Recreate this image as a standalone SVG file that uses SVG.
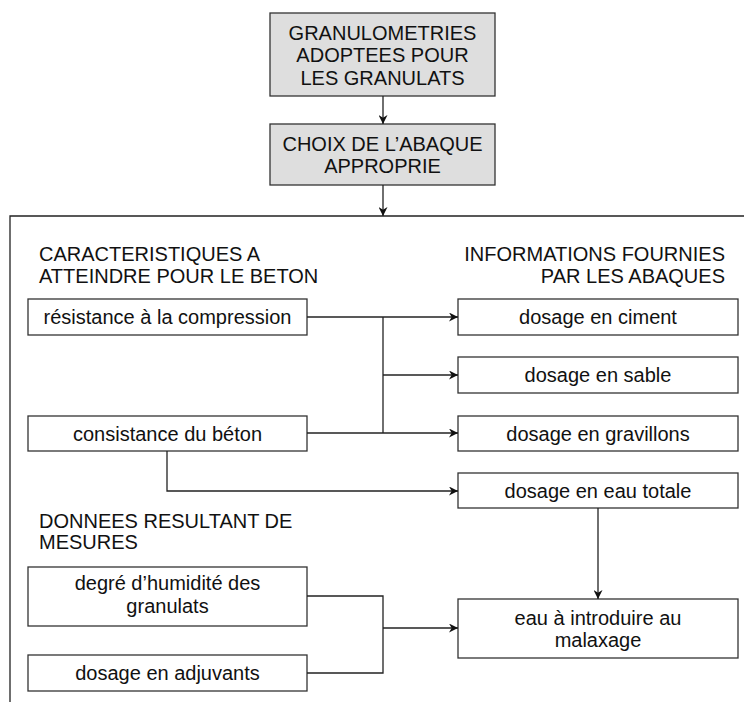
<svg xmlns="http://www.w3.org/2000/svg" width="744" height="702" viewBox="0 0 744 702">
<style>
.box{fill:#fff;stroke:#333;stroke-width:1.3}
.gbox{fill:#dedede;stroke:#333;stroke-width:1.3}
.t{font-family:"Liberation Sans",Arial,sans-serif;font-size:20px;fill:#111}
.c{text-anchor:middle}
.r{text-anchor:end}
.ln{fill:none;stroke:#222;stroke-width:1.3}
</style>
<defs>
<marker id="ah" viewBox="0 0 10 10" refX="10" refY="5" markerWidth="9" markerHeight="9" markerUnits="userSpaceOnUse" orient="auto">
<path d="M0,0 L10,5 L0,10 L3,5 Z" fill="#111"/>
</marker>
</defs>
<rect width="744" height="702" fill="#fff"/>
<g id="frame"><path class="ln" d="M10,702 V216 H744"/></g>
<g id="n1"><rect class="gbox" x="270" y="13" width="225" height="83"/>
<text class="t c" x="382.5" y="40">GRANULOMETRIES</text>
<text class="t c" x="382.5" y="62">ADOPTEES POUR</text>
<text class="t c" x="382.5" y="85">LES GRANULATS</text></g>
<g id="n2"><rect class="gbox" x="270" y="124" width="225" height="61"/>
<text class="t c" x="382.5" y="151">CHOIX DE L’ABAQUE</text>
<text class="t c" x="382.5" y="173">APPROPRIE</text></g>
<g id="h1"><text class="t" x="39" y="261">CARACTERISTIQUES A</text>
<text class="t" x="39" y="283">ATTEINDRE POUR LE BETON</text></g>
<g id="h2"><text class="t r" x="725" y="261">INFORMATIONS FOURNIES</text>
<text class="t r" x="725" y="283">PAR LES ABAQUES</text></g>
<g id="h3"><text class="t" x="39" y="528">DONNEES RESULTANT DE</text>
<text class="t" x="39" y="549">MESURES</text></g>
<g id="n3"><rect class="box" x="28" y="299" width="279" height="36"/>
<text class="t c" x="167.5" y="324">résistance à la compression</text></g>
<g id="n4"><rect class="box" x="28" y="416" width="279" height="35"/>
<text class="t c" x="167.5" y="441">consistance du béton</text></g>
<g id="n5"><rect class="box" x="458" y="299" width="280" height="36"/>
<text class="t c" x="598" y="324">dosage en ciment</text></g>
<g id="n6"><rect class="box" x="458" y="357" width="280" height="36"/>
<text class="t c" x="598" y="382">dosage en sable</text></g>
<g id="n7"><rect class="box" x="458" y="416" width="280" height="35"/>
<text class="t c" x="598" y="441">dosage en gravillons</text></g>
<g id="n8"><rect class="box" x="458" y="473" width="280" height="35"/>
<text class="t c" x="598" y="498">dosage en eau totale</text></g>
<g id="n9"><rect class="box" x="28" y="567" width="279" height="59"/>
<text class="t c" x="167.5" y="590">degré d’humidité des</text>
<text class="t c" x="167.5" y="613">granulats</text></g>
<g id="n10"><rect class="box" x="28" y="655" width="279" height="36"/>
<text class="t c" x="167.5" y="680">dosage en adjuvants</text></g>
<g id="n11"><rect class="box" x="458" y="599" width="280" height="59"/>
<text class="t c" x="598" y="625">eau à introduire au</text>
<text class="t c" x="598" y="647">malaxage</text></g>
<g id="connectors">
<path class="ln" d="M383,96 V124" marker-end="url(#ah)"/>
<path class="ln" d="M383,185 V216" marker-end="url(#ah)"/>
<path class="ln" d="M307,317 H458" marker-end="url(#ah)"/>
<path class="ln" d="M383,317 V433"/>
<path class="ln" d="M383,375 H458" marker-end="url(#ah)"/>
<path class="ln" d="M307,433 H458" marker-end="url(#ah)"/>
<path class="ln" d="M167,451 V491 H458" marker-end="url(#ah)"/>
<path class="ln" d="M598,508 V599" marker-end="url(#ah)"/>
<path class="ln" d="M307,596 H383 V673 H307"/>
<path class="ln" d="M383,628 H458" marker-end="url(#ah)"/>
</g>
</svg>
